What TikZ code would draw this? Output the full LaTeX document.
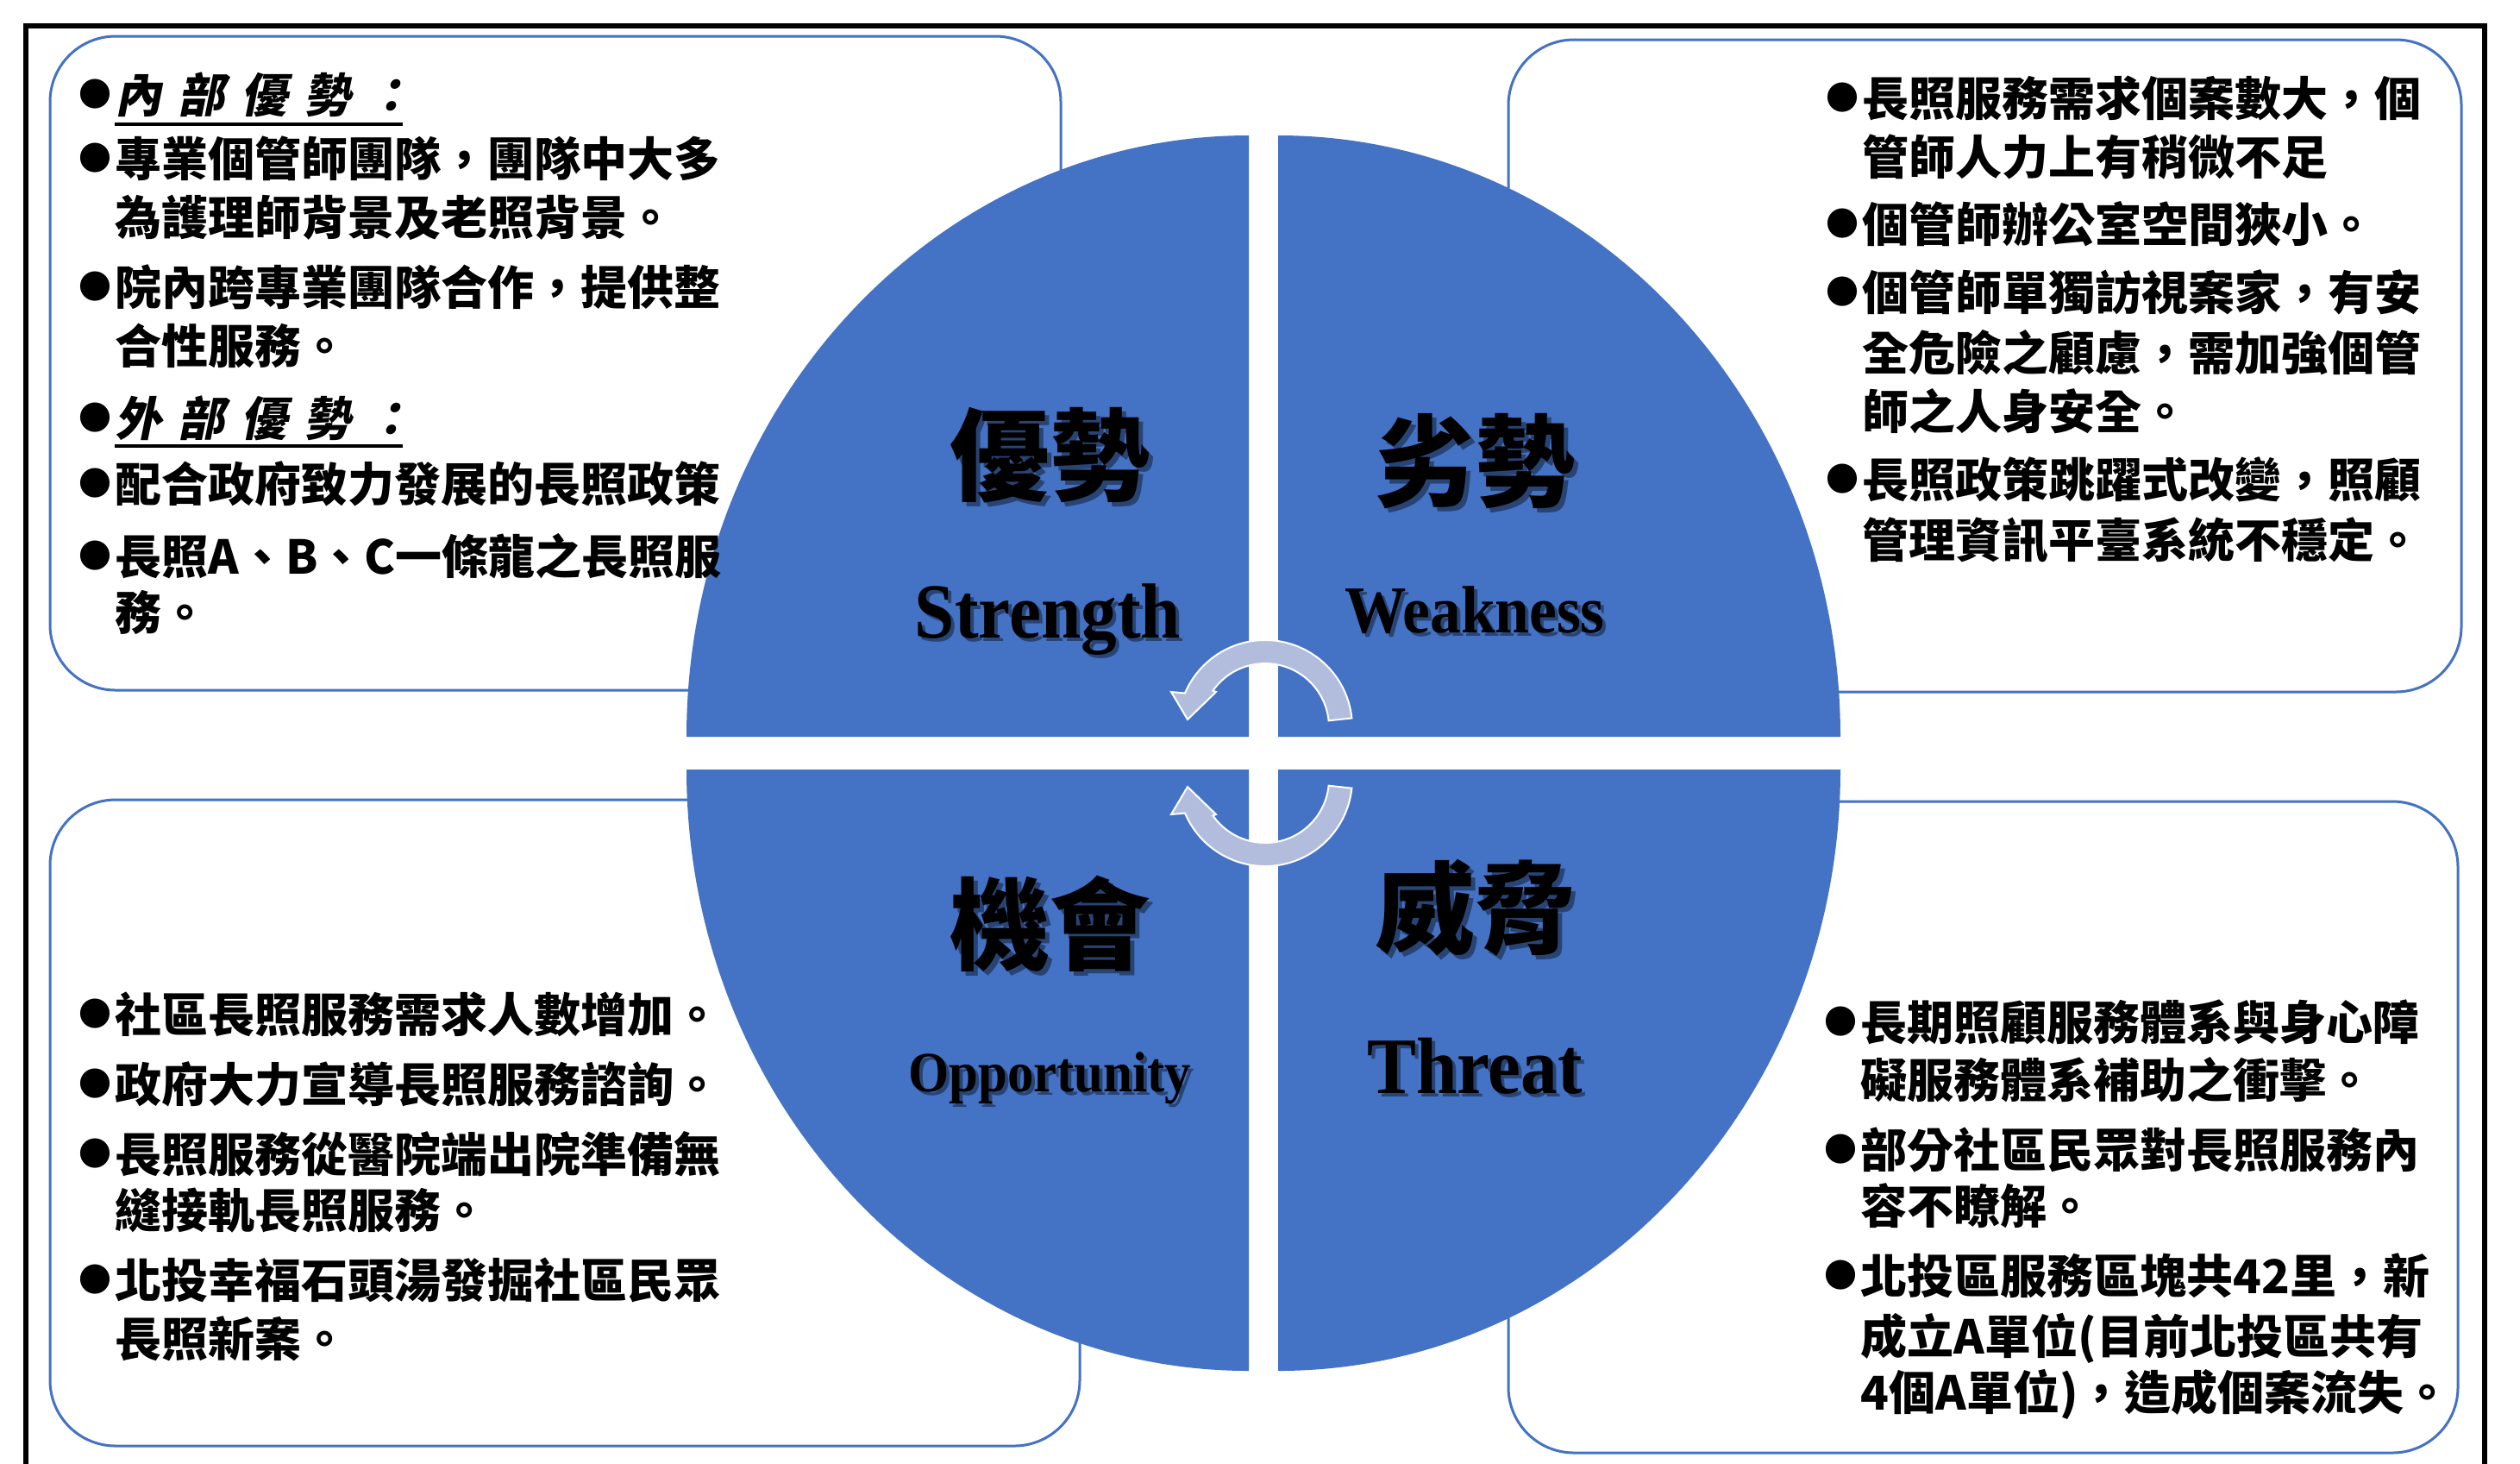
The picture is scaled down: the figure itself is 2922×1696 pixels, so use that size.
\documentclass[tikz,border=0pt]{standalone}
\usepackage{fontspec}
\usepackage{graphicx}
\newfontfamily\cjk{Noto Sans CJK TC}
\newfontfamily\cjkit{Noto Sans CJK TC}[FakeSlant=0.2]
\newfontfamily\tnr{Liberation Serif}
\definecolor{qblue}{RGB}{68,114,196}
\definecolor{arrfill}{RGB}{178,189,222}
\tikzset{
  quad/.style={fill=qblue},
  sbox/.style={draw=qblue, line width=0.75pt, rounded corners=19pt},
  arr/.style={fill=arrfill, draw=white, line width=0.5pt},
  body/.style={inner sep=0pt, anchor=base west, font=\cjk\bfseries\fontsize{13.5pt}{16pt}\selectfont},
  head/.style={body, font=\cjkit\bfseries\fontsize{13.5pt}{16pt}\selectfont},
  ul/.style={line width=1pt, black},
  ttl/.style={inner sep=0pt, anchor=center, font=\cjk\bfseries\fontsize{29pt}{32pt}\selectfont},
  ttlsh/.style={ttl, text=black, opacity=0.4},
  eng/.style={inner sep=0pt, anchor=base, font=\tnr\bfseries},
  engsh/.style={eng, opacity=0.4},
}
\newcommand{\hg}{\hspace{4.75pt}}
\newcommand{\bul}{\llap{\raisebox{1.7pt}{\cjk\bfseries\fontsize{9.5pt}{10pt}\selectfont ●}\hspace{1.2pt}}}
\begin{document}
\begin{tikzpicture}[x={(0.25pt,0)}, y={(0,-0.25pt)}]
\useasboundingbox (0,0) rectangle (2922,1696);
\fill[white] (0,0) rectangle (2922,1696);
% outer frame
\draw[line width=1.5pt] (30,1700) -- (30,30) -- (2881,30) -- (2881,1700);
% boxes
\draw[sbox] (58,42) rectangle (1230,800);
\draw[sbox] (1749,46) rectangle (2854,802);
\draw[sbox] (58,927) rectangle (1252,1676);
\draw[sbox] (1749,929) rectangle (2850,1684);
% quadrants
\fill[quad] (1448,854) -- (796,854) arc[start angle=180, end angle=270, x radius=652, y radius=697] -- cycle;
\fill[quad] (1482,854) -- (2134,854) arc[start angle=0, end angle=-90, x radius=652, y radius=697] -- cycle;
\fill[quad] (1448,892) -- (796,892) arc[start angle=180, end angle=90, x radius=652, y radius=697] -- cycle;
\fill[quad] (1482,892) -- (2134,892) arc[start angle=0, end angle=90, x radius=652, y radius=697] -- cycle;
% circular arrows
\draw[arr] (1567.4,832.4) arc[start angle=-6, end angle=-157, radius=101] -- (1358,802) -- (1377,834) -- (1410,802) -- (1406.4,800.6) arc[start angle=-145, end angle=-6, radius=74] -- cycle;
\draw[arr] (1567.4,913.6) arc[start angle=6, end angle=157, radius=101] -- (1358,944) -- (1377,912) -- (1410,944) -- (1406.4,945.4) arc[start angle=145, end angle=6, radius=74] -- cycle;
% titles
\node[ttlsh] (ts-sh) at (1222,533) {優勢};
\node[ttl] (ts) at (1217,528) {優勢};
\node[ttlsh] (tw-sh) at (1715,540) {劣勢};
\node[ttl] (tw) at (1710,535) {劣勢};
\node[ttlsh] (to-sh) at (1222,1076) {機會};
\node[ttl] (to) at (1217,1071) {機會};
\node[ttlsh] (tt-sh) at (1715,1057) {威脅};
\node[ttl] (tt) at (1710,1052) {威脅};
\node[engsh, font=\tnr\bfseries\fontsize{22.6pt}{26pt}\selectfont] (es-sh) at (1219,743) {\scalebox{0.92}[1]{Strength}};
\node[eng, font=\tnr\bfseries\fontsize{22.6pt}{26pt}\selectfont] (es) at (1215,739) {\scalebox{0.92}[1]{Strength}};
\node[engsh, font=\tnr\bfseries\fontsize{19.4pt}{23pt}\selectfont] (ew-sh) at (1714,737) {\scalebox{0.92}[1]{Weakness}};
\node[eng, font=\tnr\bfseries\fontsize{19.4pt}{23pt}\selectfont] (ew) at (1710,733) {\scalebox{0.92}[1]{Weakness}};
\node[engsh, font=\tnr\bfseries\fontsize{16.5pt}{20pt}\selectfont] (eo-sh) at (1221,1269) {\scalebox{0.92}[1]{Opportunity}};
\node[eng, font=\tnr\bfseries\fontsize{16.5pt}{20pt}\selectfont] (eo) at (1217,1265) {\scalebox{0.92}[1]{Opportunity}};
\node[engsh, font=\tnr\bfseries\fontsize{23.2pt}{27pt}\selectfont] (et-sh) at (1714,1271) {\scalebox{0.92}[1]{Threat}};
\node[eng, font=\tnr\bfseries\fontsize{23.2pt}{27pt}\selectfont] (et) at (1710,1267) {\scalebox{0.92}[1]{Threat}};
% Strength text
\node[head] (s1) at (133,130.5) {\bul 內\hg 部\hg 優\hg 勢\hg ：};
\draw[ul] (133,144) -- (467,144);
\node[body] (s2) at (133,204.5) {\bul 專業個管師團隊，團隊中大多};
\node[body] (s3) at (133,272.5) {為護理師背景及老照背景。};
\node[body] (s4) at (133,353.5) {\bul 院內跨專業團隊合作，提供整};
\node[body] (s5) at (133,421.5) {合性服務。};
\node[head] (s6) at (133,505.5) {\bul 外\hg 部\hg 優\hg 勢\hg ：};
\draw[ul] (133,517) -- (467,517);
\node[body] (s7) at (133,581.5) {\bul 配合政府致力發展的長照政策};
\node[body] (s8) at (133,665.5) {\bul 長照A、B、C一條龍之長照服};
\node[body] (s9) at (133,730.5) {務。};
% Weakness text
\node[body] (w1) at (2159,134.5) {\bul 長照服務需求個案數大，個};
\node[body] (w2) at (2159,202.5) {管師人力上有稍微不足};
\node[body] (w3) at (2159,280.5) {\bul 個管師辦公室空間狹小。};
\node[body] (w4) at (2159,359.5) {\bul 個管師單獨訪視案家，有安};
\node[body] (w5) at (2159,429.5) {全危險之顧慮，需加強個管};
\node[body] (w6) at (2159,497.5) {師之人身安全。};
\node[body] (w7) at (2159,576.5) {\bul 長照政策跳躍式改變，照顧};
\node[body] (w8) at (2159,646.5) {管理資訊平臺系統不穩定。};
% Opportunity text
\node[body] (o1) at (133,1196.5) {\bul 社區長照服務需求人數增加。};
\node[body] (o2) at (133,1277.5) {\bul 政府大力宣導長照服務諮詢。};
\node[body] (o3) at (133,1358.5) {\bul 長照服務從醫院端出院準備無};
\node[body] (o4) at (133,1423.5) {縫接軌長照服務。};
\node[body] (o5) at (133,1504.5) {\bul 北投幸福石頭湯發掘社區民眾};
\node[body] (o6) at (133,1572.5) {長照新案。};
% Threat text
\node[body] (t1) at (2157,1205.5) {\bul 長期照顧服務體系與身心障};
\node[body] (t2) at (2157,1272.5) {礙服務體系補助之衝擊。};
\node[body] (t3) at (2157,1353.5) {\bul 部分社區民眾對長照服務內};
\node[body] (t4) at (2157,1418.5) {容不瞭解。};
\node[body] (t5) at (2157,1499.5) {\bul 北投區服務區塊共42里，新};
\node[body] (t6) at (2157,1569.5) {成立A單位(目前北投區共有};
\node[body] (t7) at (2157,1634.5) {4個A單位)，造成個案流失。};
\end{tikzpicture}
\end{document}
